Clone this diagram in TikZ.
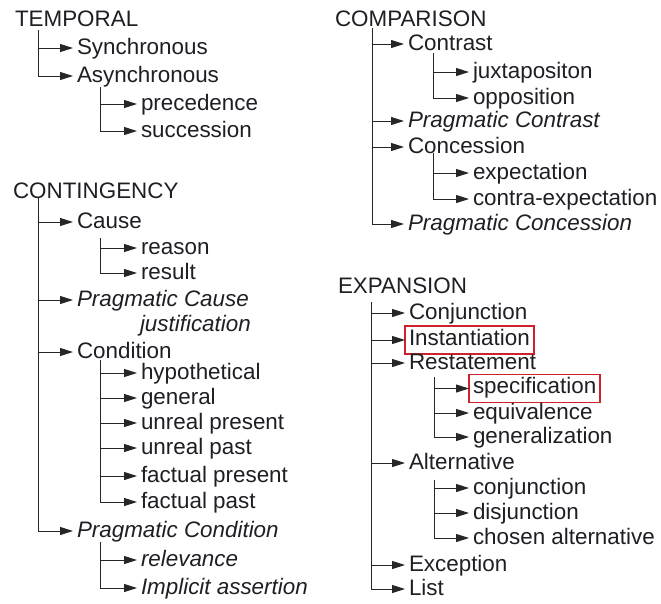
\documentclass[tikz,border=0pt]{standalone}
\usepackage{fontspec}
\setmainfont{Liberation Sans}
\usepackage{tikz}
\usetikzlibrary{positioning,arrows.meta}
\definecolor{ink}    {HTML}{1E1E24}
\definecolor{wire}   {HTML}{262626}
\definecolor{hilite} {HTML}{CC2229}
\tikzset{
  % --- nodes
  lab/.style  = {anchor=west, inner xsep=4pt, inner ysep=1pt, outer sep=0pt, text=ink,
                 text height=16pt, text depth=3pt, font=\fontsize{22.4}{25}\selectfont},
  prag/.style = {lab, font=\fontsize{22.4}{25}\selectfont\itshape},
  hl/.style   = {lab, draw=hilite, line width=1.8pt, text depth=6pt, inner ysep=3pt},
  % --- edges
  e/.style    = {-{Triangle[length=13pt,width=8pt]}, line width=1pt, draw=wire},
}

\begin{document}
\begin{tikzpicture}[x=1pt,y=-1pt]
  \useasboundingbox (0,0) rectangle (661,603);
  % --- temporal
  \node[lab] (temp)  at (11,20)   {TEMPORAL};
  \node[lab] (sync)  at (73,48)   {Synchronous};
  \node[lab] (async) at (73,76)   {Asynchronous};
  \node[lab] (prec)  at (137,104) {precedence};
  \node[lab] (succ)  at (137,131) {succession};
  \coordinate (tTemp)  at (38,30);
  \coordinate (tAsync) at (100,87);
  \draw[e] (tTemp) |- (sync.west); \draw[e] (tTemp) |- (async.west);
  \draw[e] (tAsync) |- (prec.west); \draw[e] (tAsync) |- (succ.west);

  % --- contingency
  \node[lab]  (cont)   at (9,192)   {CONTINGENCY};
  \node[lab]  (cause)  at (73,222)  {Cause};
  \node[lab]  (reas)   at (137,248) {reason};
  \node[lab]  (res)    at (137,273) {result};
  \node[prag] (pcause) at (73,300)  {Pragmatic Cause};
  \node[prag] (just)   at (136,325) {justification};
  \node[lab]  (cond)   at (73,352)  {Condition};
  \node[lab]  (hyp)    at (137,373) {hypothetical};
  \node[lab]  (gen)    at (137,398) {general};
  \node[lab]  (upres)  at (137,423) {unreal present};
  \node[lab]  (upast)  at (137,448) {unreal past};
  \node[lab]  (fpres)  at (137,476) {factual present};
  \node[lab]  (fpast)  at (137,502) {factual past};
  \node[prag] (pcond)  at (73,531)  {Pragmatic Condition};
  \node[prag] (relev)  at (137,560) {relevance};
  \node[prag] (impl)   at (137,588) {Implicit assertion};
  \coordinate (tCont)  at (38,198);
  \coordinate (tCause) at (100,238);
  \coordinate (tCond)  at (100,360);
  \coordinate (tPcond) at (100,542);
  \draw[e] (tCont) |- (cause.west); \draw[e] (tCont) |- (pcause.west);
  \draw[e] (tCont) |- (cond.west);  \draw[e] (tCont) |- (pcond.west);
  \draw[e] (tCause) |- (reas.west); \draw[e] (tCause) |- (res.west);
  \draw[e] (tCond) |- (hyp.west);   \draw[e] (tCond) |- (gen.west);
  \draw[e] (tCond) |- (upres.west); \draw[e] (tCond) |- (upast.west);
  \draw[e] (tCond) |- (fpres.west); \draw[e] (tCond) |- (fpast.west);
  \draw[e] (tPcond) |- (relev.west); \draw[e] (tPcond) |- (impl.west);

  % --- comparison
  \node[lab]  (comp)   at (331,20)  {COMPARISON};
  \node[lab]  (contr)  at (404,44)  {Contrast};
  \node[lab]  (juxt)   at (469,72)  {juxtapositon};
  \node[lab]  (oppo)   at (469,98)  {opposition};
  \node[prag] (pcontr) at (404,121) {Pragmatic Contrast};
  \node[lab]  (conc)   at (404,147) {Concession};
  \node[lab]  (expec)  at (469,173) {expectation};
  \node[lab]  (cexpec) at (469,199) {contra-expectation};
  \node[prag] (pconc)  at (404,224) {Pragmatic Concession};
  \coordinate (tComp)  at (372,28);
  \coordinate (tContr) at (433,53);
  \coordinate (tConc)  at (433,153);
  \draw[e] (tComp) |- (contr.west); \draw[e] (tComp) |- (pcontr.west);
  \draw[e] (tComp) |- (conc.west);  \draw[e] (tComp) |- (pconc.west);
  \draw[e] (tContr) |- (juxt.west); \draw[e] (tContr) |- (oppo.west);
  \draw[e] (tConc) |- (expec.west); \draw[e] (tConc) |- (cexpec.west);

  % --- expansion
  \node[lab] (expa)  at (334,287)   {EXPANSION};
  \node[lab] (conj)  at (405,313)   {Conjunction};
  \node[hl]  (inst)  at (405,340)   {Instantiation};
  \node[lab] (rest)  at (405,363)   {Restatement};
  \node[hl]  (spec)  at (469,388.5) {specification};
  \node[lab] (equi)  at (469,413)   {equivalence};
  \node[lab] (gene)  at (469,437)   {generalization};
  \node[lab] (alt)   at (405,463)   {Alternative};
  \node[lab] (aconj) at (469,488)   {conjunction};
  \node[lab] (adisj) at (469,513)   {disjunction};
  \node[lab] (chos)  at (469,538)   {chosen alternative};
  \node[lab] (exc)   at (405,565)   {Exception};
  \node[lab] (list)  at (405,589)   {List};
  \coordinate (tExpa) at (371,302);
  \coordinate (tRest) at (434,377);
  \coordinate (tAlt)  at (434,480);
  \draw[e] (tExpa) |- (conj.west); \draw[e] (tExpa) |- (inst.west);
  \draw[e] (tExpa) |- (rest.west); \draw[e] (tExpa) |- (alt.west);
  \draw[e] (tExpa) |- (exc.west);  \draw[e] (tExpa) |- (list.west);
  \draw[e] (tRest) |- (spec.west); \draw[e] (tRest) |- (equi.west);
  \draw[e] (tRest) |- (gene.west);
  \draw[e] (tAlt) |- (aconj.west); \draw[e] (tAlt) |- (adisj.west);
  \draw[e] (tAlt) |- (chos.west);
\end{tikzpicture}
\end{document}
